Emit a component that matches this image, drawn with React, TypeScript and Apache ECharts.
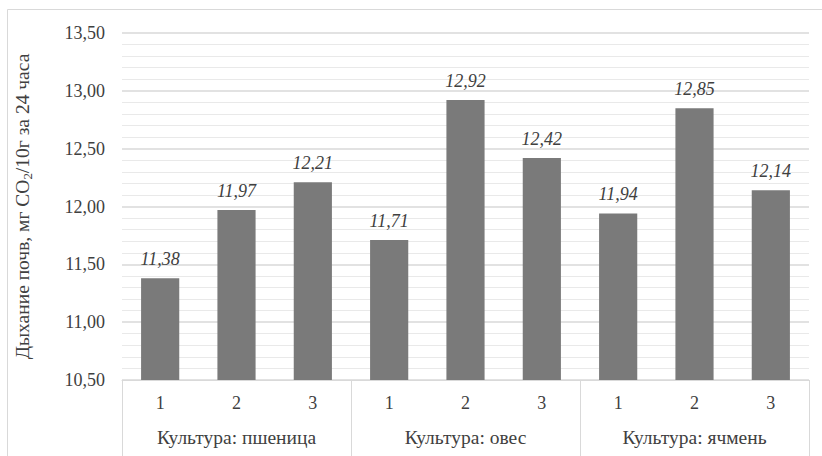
import React, { useEffect, useRef } from "react";
import * as echarts from "echarts";

// Soil respiration by crop and variant
const variants = ["1", "2", "3", "1", "2", "3", "1", "2", "3"];
const crops = ["Культура: пшеница", "Культура: овес", "Культура: ячмень"];
const respiration = [11.38, 11.97, 12.21, 11.71, 12.92, 12.42, 11.94, 12.85, 12.14];
const yMin = 10.5;
const yMax = 13.5;
const yStep = 0.5;

const FONT = "Liberation Serif";
const TEXT = "#404040";

const fmt = (v: number) => v.toFixed(2).replace(".", ",");

export default function App() {
  const ref = useRef<HTMLDivElement>(null);

  useEffect(() => {
    if (!ref.current) return;
    const chart = echarts.init(ref.current, undefined, { renderer: "svg" });
    chart.setOption({
      animation: false,
      backgroundColor: "#ffffff",
      textStyle: { fontFamily: FONT },
      graphic: [
        {
          type: "rect",
          shape: { x: 7.5, y: 9.5, width: 840, height: 470 },
          style: { fill: "none", stroke: "#d9d9d9", lineWidth: 1 },
          silent: true,
          z: -1,
        },
      ],
      grid: { left: 122, right: 13, top: 33, bottom: 76 },
      xAxis: [
        {
          type: "category",
          data: variants,
          position: "bottom",
          axisLine: { show: true, lineStyle: { color: "#d9d9d9", width: 1 } },
          axisTick: { show: false },
          axisLabel: { color: TEXT, fontFamily: FONT, fontSize: 18, margin: 14 },
        },
        {
          type: "category",
          data: crops,
          position: "bottom",
          axisLine: { show: false },
          axisTick: { show: true, length: 90, lineStyle: { color: "#d9d9d9", width: 1 } },
          axisLabel: { color: TEXT, fontFamily: FONT, fontSize: 19.5, margin: 47 },
        },
      ],
      yAxis: {
        type: "value",
        min: yMin,
        max: yMax,
        interval: yStep,
        name: "Дыхание почв, мг CO{sub|2}/10г за 24 часа",
        nameLocation: "middle",
        nameGap: 88,
        nameTextStyle: {
          color: TEXT,
          fontFamily: FONT,
          fontSize: 19.5,
          lineHeight: 23,
          rich: {
            sub: {
              color: TEXT,
              fontFamily: FONT,
              fontSize: 13,
              lineHeight: 13,
              verticalAlign: "bottom",
            },
          },
        },
        axisLine: { show: false },
        axisTick: { show: false },
        axisLabel: {
          color: TEXT,
          fontFamily: FONT,
          fontSize: 18,
          margin: 17,
          formatter: (v: number) => fmt(v),
        },
        splitLine: { show: true, lineStyle: { color: "#d9d9d9", width: 1.5 } },
        minorTick: { show: false, splitNumber: 5 },
        minorSplitLine: { show: true, lineStyle: { color: "#e9e9e9", width: 1 } },
      },
      series: [
        {
          type: "bar",
          xAxisIndex: 0,
          data: respiration,
          barWidth: "50%",
          itemStyle: { color: "#7a7a7a" },
          label: {
            show: true,
            position: "top",
            distance: 10,
            color: TEXT,
            fontFamily: FONT,
            fontSize: 18,
            fontStyle: "italic",
            formatter: (p: any) => fmt(p.value),
          },
        },
      ],
    });
    return () => chart.dispose();
  }, []);

  return (
    <div
      ref={ref}
      style={{ position: "fixed", left: 0, top: 0, width: 822, height: 456 }}
    />
  );
}
